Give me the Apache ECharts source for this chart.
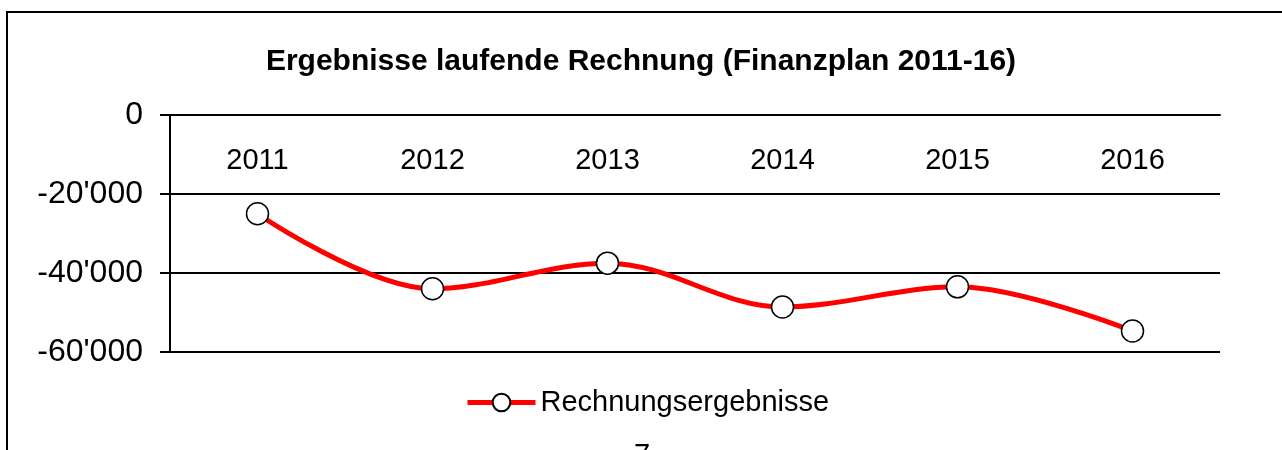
<!DOCTYPE html>
<html>
<head>
<meta charset="utf-8">
<script src="https://cdn.jsdelivr.net/npm/echarts@6/dist/echarts.min.js"></script>
<style>
  html, body { margin: 0; padding: 0; background: #fff; }
  #chart { width: 1282px; height: 450px; }
</style>
</head>
<body>
<div id="chart"></div>
<script>
var jahre = ['2011', '2012', '2013', '2014', '2015', '2016'];
var ergebnisse = [-25000, -44000, -37500, -48600, -43500, -54700];

function fmt(v) {
    // Schweizer Tausendertrennzeichen
    var s = String(Math.abs(v)).replace(/\B(?=(\d{3})+(?!\d))/g, "'");
    return (v < 0 ? '-' : '') + s;
}

var myChart = echarts.init(document.getElementById('chart'));
var option = {
    animation: false,
    textStyle: { fontFamily: 'Liberation Sans, Arial, sans-serif' },
    title: {
        text: 'Ergebnisse laufende Rechnung (Finanzplan 2011-16)',
        left: 'center',
        top: 42,
        textStyle: { color: '#000', fontSize: 30, fontWeight: 'bold' }
    },
    graphic: [
        {
            type: 'rect',
            shape: { x: 7, y: 12, width: 1300, height: 500 },
            style: { fill: 'none', stroke: '#000', lineWidth: 2 },
            silent: true
        },
        {
            type: 'text',
            left: 634,
            top: 441,
            style: { text: '7', fontSize: 29, fill: '#000', fontFamily: 'Liberation Sans' }
        }
    ],
    legend: {
        data: ['Rechnungsergebnisse'],
        bottom: 28,
        left: 460,
        itemWidth: 68,
        itemHeight: 22,
        itemGap: 6,
        lineStyle: { width: 5, color: '#ff0000' },
        textStyle: { color: '#000', fontSize: 29 }
    },
    grid: { left: 170, right: 62, top: 115, bottom: 98 },
    xAxis: {
        type: 'category',
        data: jahre,
        position: 'top',
        axisLine: { lineStyle: { color: '#000', width: 2 } },
        axisTick: { inside: true, length: 8, lineStyle: { color: '#000', width: 2 } },
        axisLabel: { inside: true, margin: 31, color: '#000', fontSize: 29 }
    },
    yAxis: {
        type: 'value',
        min: -60000,
        max: 0,
        interval: 20000,
        axisLine: { show: true, lineStyle: { color: '#000', width: 2 } },
        axisTick: { show: true, length: 10, lineStyle: { color: '#000', width: 2 } },
        splitLine: { lineStyle: { color: '#000', width: 2 } },
        axisLabel: {
            color: '#000',
            fontSize: 32,
            margin: 27,
            formatter: function (v) { return fmt(v); }
        }
    },
    series: [
        {
            name: 'Rechnungsergebnisse',
            type: 'line',
            data: ergebnisse,
            smooth: 0.35,
            symbol: 'circle',
            symbolSize: 22,
            lineStyle: { color: '#ff0000', width: 5 },
            itemStyle: { color: '#fff', borderColor: '#000', borderWidth: 1.5 },
            z: 3
        }
    ]
};
myChart.setOption(option);
</script>
</body>
</html>
